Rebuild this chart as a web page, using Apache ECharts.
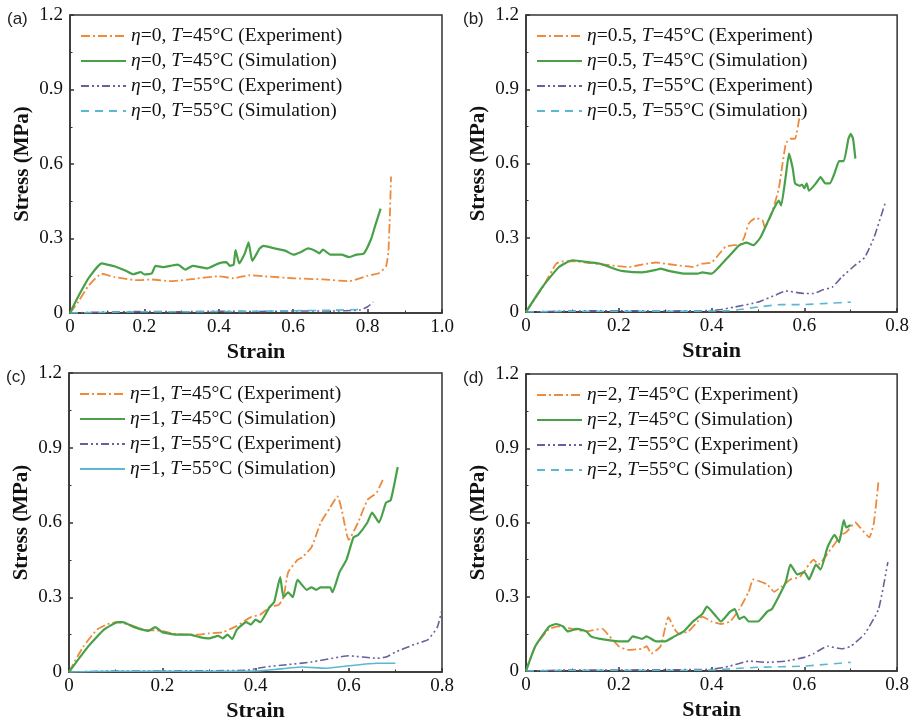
<!DOCTYPE html>
<html><head><meta charset="utf-8">
<script src="https://cdn.jsdelivr.net/npm/echarts@6/dist/echarts.min.js"></script>
<style>html,body{margin:0;padding:0;background:#fff}#c{width:912px;height:723px}</style>
</head><body><div id="c"></div>
<script>
// ---- data ----
const panelLabels = ['(a)', '(b)', '(c)', '(d)'];
const etaValues = ['0', '0.5', '1', '2'];
const xMaxes = [1.0, 0.8, 0.8, 0.8];
const yTicks = [0, 0.3, 0.6, 0.9, 1.2];

const aExp45 = [[0,0],[0.02,0.04],[0.05,0.11],[0.085,0.158],[0.12,0.145],[0.18,0.132],[0.22,0.135],[0.27,0.128],[0.32,0.135],[0.4,0.148],[0.44,0.14],[0.48,0.152],[0.52,0.148],[0.6,0.14],[0.68,0.135],[0.75,0.128],[0.8,0.15],[0.83,0.16],[0.85,0.19],[0.856,0.25],[0.86,0.4],[0.863,0.55]];
const aSim45 = [[0,0],[0.02,0.06],[0.05,0.14],[0.085,0.2],[0.1,0.195],[0.12,0.188],[0.15,0.17],[0.17,0.156],[0.19,0.165],[0.2,0.155],[0.22,0.16],[0.23,0.19],[0.25,0.185],[0.27,0.19],[0.29,0.195],[0.31,0.175],[0.33,0.19],[0.37,0.18],[0.4,0.2],[0.42,0.205],[0.43,0.19],[0.44,0.195],[0.445,0.253],[0.455,0.2],[0.47,0.24],[0.48,0.284],[0.49,0.21],[0.51,0.26],[0.52,0.27],[0.55,0.26],[0.58,0.25],[0.6,0.235],[0.62,0.245],[0.64,0.26],[0.66,0.25],[0.67,0.24],[0.68,0.255],[0.7,0.235],[0.73,0.235],[0.75,0.225],[0.77,0.235],[0.79,0.24],[0.81,0.3],[0.82,0.35],[0.835,0.42]];
const aExp55 = [[0,0],[0.1,0.004],[0.2,0.006],[0.3,0.005],[0.4,0.007],[0.5,0.006],[0.6,0.008],[0.7,0.008],[0.78,0.012],[0.8,0.025],[0.815,0.044]];
const aSim55 = [[0,0],[0.1,0.003],[0.2,0.005],[0.3,0.005],[0.4,0.006],[0.5,0.007],[0.6,0.009],[0.7,0.011],[0.79,0.015]];

const bExp45 = [[0,0],[0.036,0.1],[0.065,0.195],[0.08,0.205],[0.1,0.205],[0.15,0.195],[0.2,0.185],[0.22,0.182],[0.26,0.195],[0.28,0.2],[0.32,0.19],[0.36,0.182],[0.38,0.195],[0.4,0.2],[0.41,0.22],[0.43,0.263],[0.45,0.27],[0.46,0.27],[0.47,0.3],[0.48,0.357],[0.495,0.38],[0.51,0.37],[0.515,0.34],[0.53,0.4],[0.545,0.5],[0.56,0.68],[0.57,0.7],[0.58,0.7],[0.59,0.795]];
const bSim45 = [[0,0],[0.035,0.1],[0.07,0.18],[0.1,0.209],[0.14,0.2],[0.16,0.195],[0.19,0.175],[0.21,0.165],[0.25,0.16],[0.28,0.17],[0.29,0.175],[0.31,0.165],[0.34,0.155],[0.37,0.155],[0.38,0.16],[0.4,0.155],[0.42,0.19],[0.44,0.23],[0.46,0.27],[0.475,0.28],[0.49,0.27],[0.505,0.3],[0.52,0.36],[0.535,0.42],[0.545,0.45],[0.55,0.43],[0.56,0.55],[0.567,0.64],[0.575,0.58],[0.58,0.52],[0.59,0.51],[0.595,0.515],[0.6,0.5],[0.605,0.52],[0.61,0.49],[0.625,0.52],[0.635,0.545],[0.645,0.52],[0.655,0.52],[0.665,0.56],[0.675,0.61],[0.685,0.61],[0.695,0.7],[0.7,0.72],[0.705,0.7],[0.71,0.62]];
const bExp55 = [[0,0],[0.1,0.004],[0.2,0.005],[0.3,0.004],[0.4,0.006],[0.42,0.01],[0.45,0.02],[0.5,0.04],[0.54,0.07],[0.56,0.085],[0.6,0.075],[0.62,0.075],[0.64,0.09],[0.66,0.1],[0.68,0.14],[0.71,0.19],[0.73,0.22],[0.75,0.3],[0.775,0.445]];
const bSim55 = [[0,0],[0.1,0.003],[0.2,0.003],[0.3,0.003],[0.44,0.005],[0.46,0.01],[0.5,0.02],[0.55,0.03],[0.6,0.03],[0.65,0.035],[0.7,0.04]];

const cExp45 = [[0,0],[0.03,0.1],[0.06,0.17],[0.08,0.19],[0.1,0.2],[0.13,0.19],[0.16,0.17],[0.2,0.165],[0.22,0.155],[0.25,0.15],[0.28,0.15],[0.3,0.155],[0.33,0.16],[0.36,0.185],[0.39,0.22],[0.41,0.23],[0.43,0.26],[0.45,0.27],[0.46,0.3],[0.47,0.4],[0.49,0.45],[0.5,0.46],[0.52,0.5],[0.54,0.6],[0.56,0.66],[0.576,0.705],[0.585,0.65],[0.6,0.53],[0.62,0.6],[0.64,0.69],[0.66,0.72],[0.675,0.78]];
const cSim45 = [[0,0],[0.04,0.1],[0.075,0.17],[0.105,0.2],[0.115,0.2],[0.14,0.18],[0.17,0.165],[0.185,0.18],[0.2,0.16],[0.23,0.15],[0.26,0.15],[0.28,0.14],[0.3,0.135],[0.32,0.145],[0.33,0.135],[0.34,0.15],[0.35,0.132],[0.36,0.17],[0.38,0.2],[0.39,0.19],[0.4,0.21],[0.41,0.2],[0.43,0.26],[0.44,0.28],[0.453,0.381],[0.46,0.3],[0.47,0.32],[0.48,0.3],[0.49,0.37],[0.51,0.33],[0.52,0.34],[0.53,0.33],[0.54,0.34],[0.56,0.34],[0.565,0.32],[0.58,0.4],[0.595,0.45],[0.61,0.54],[0.62,0.55],[0.64,0.6],[0.65,0.64],[0.665,0.6],[0.68,0.68],[0.69,0.69],[0.705,0.823]];
const cExp55 = [[0,0],[0.1,0.004],[0.2,0.004],[0.3,0.005],[0.38,0.007],[0.42,0.02],[0.47,0.03],[0.52,0.04],[0.58,0.06],[0.6,0.065],[0.66,0.055],[0.68,0.06],[0.7,0.08],[0.74,0.11],[0.77,0.13],[0.79,0.18],[0.8,0.25]];
const cSim55 = [[0,0],[0.1,0.003],[0.2,0.003],[0.3,0.003],[0.4,0.004],[0.44,0.01],[0.5,0.02],[0.55,0.015],[0.6,0.025],[0.66,0.035],[0.7,0.035]];

const dExp45 = [[0,0],[0.02,0.1],[0.05,0.17],[0.07,0.18],[0.1,0.17],[0.13,0.16],[0.164,0.171],[0.18,0.14],[0.2,0.1],[0.22,0.085],[0.25,0.09],[0.26,0.1],[0.27,0.07],[0.29,0.1],[0.307,0.218],[0.32,0.17],[0.33,0.15],[0.35,0.16],[0.37,0.2],[0.38,0.22],[0.4,0.2],[0.42,0.19],[0.44,0.2],[0.46,0.25],[0.48,0.32],[0.49,0.37],[0.52,0.35],[0.535,0.32],[0.55,0.34],[0.57,0.37],[0.59,0.38],[0.61,0.43],[0.62,0.45],[0.63,0.43],[0.66,0.5],[0.68,0.55],[0.69,0.56],[0.71,0.6],[0.72,0.58],[0.74,0.54],[0.75,0.6],[0.76,0.77]];
const dSim45 = [[0,0],[0.02,0.1],[0.05,0.18],[0.065,0.19],[0.08,0.18],[0.09,0.16],[0.11,0.17],[0.13,0.16],[0.14,0.14],[0.16,0.13],[0.2,0.12],[0.22,0.12],[0.23,0.14],[0.25,0.13],[0.26,0.14],[0.28,0.12],[0.3,0.12],[0.32,0.14],[0.34,0.16],[0.36,0.2],[0.38,0.23],[0.39,0.26],[0.41,0.22],[0.42,0.2],[0.44,0.24],[0.45,0.25],[0.46,0.21],[0.47,0.22],[0.48,0.2],[0.5,0.2],[0.52,0.24],[0.53,0.25],[0.55,0.32],[0.56,0.36],[0.57,0.43],[0.585,0.39],[0.6,0.4],[0.61,0.37],[0.625,0.43],[0.635,0.41],[0.65,0.5],[0.665,0.55],[0.675,0.52],[0.685,0.61],[0.69,0.58],[0.7,0.59]];
const dExp55 = [[0,0],[0.1,0.004],[0.2,0.004],[0.3,0.005],[0.4,0.007],[0.44,0.02],[0.48,0.04],[0.52,0.035],[0.56,0.04],[0.6,0.055],[0.62,0.07],[0.65,0.1],[0.68,0.09],[0.7,0.1],[0.73,0.15],[0.76,0.25],[0.78,0.44]];
const dSim55 = [[0,0],[0.1,0.003],[0.2,0.003],[0.3,0.003],[0.4,0.004],[0.45,0.01],[0.5,0.015],[0.6,0.02],[0.7,0.035]];

const panelData = [
  [aExp45, aSim45, aExp55, aSim55],
  [bExp45, bSim45, bExp55, bSim55],
  [cExp45, cSim45, cExp55, cSim55],
  [dExp45, dSim45, dExp55, dSim55]
];

// ---- styling ----
const grids = [
  {left: 70, top: 15, width: 372, height: 298},
  {left: 526, top: 15, width: 372, height: 297},
  {left: 69, top: 373, width: 373, height: 299},
  {left: 526, top: 374, width: 373, height: 297}
];
const colors = ['#EE8A3C', '#48A048', '#6A5F9A', '#5BB8D0'];
const dashes = [[9,3,2,3], 'solid', [8,3,2,3,2,3], [8,6]];
const widths = [1.8, 2.2, 1.6, 1.6];
const suffix = ['T=45°C (Experiment)', 'T=45°C (Simulation)', 'T=55°C (Experiment)', 'T=55°C (Simulation)'];
const serif = '"Liberation Serif", "Times New Roman", serif';

const option = {
  animation: false,
  backgroundColor: '#fff',
  grid: [], xAxis: [], yAxis: [], series: [], legend: [], title: []
};

grids.forEach((g, p) => {
  option.grid.push(Object.assign({show: true, borderColor: '#333', borderWidth: 1.5, backgroundColor: 'transparent'}, g));
  option.xAxis.push({
    type: 'value', gridIndex: p, min: 0, max: xMaxes[p], interval: 0.2,
    name: 'Strain', nameLocation: 'middle', nameGap: 28,
    nameTextStyle: {fontFamily: serif, fontSize: 22, fontWeight: 'bold', color: '#111'},
    axisLine: {lineStyle: {color: '#333', width: 1.5}},
    axisTick: {inside: true, length: 4, lineStyle: {color: '#333', width: 1.5}},
    minorTick: {show: true, splitNumber: 2, length: 2.5, lineStyle: {color: '#333'}},
    splitLine: {show: false},
    axisLabel: {fontFamily: serif, fontSize: 19, color: '#111', margin: 5,
      formatter: v => (v === 0 ? '0' : v.toFixed(1))}
  });
  option.yAxis.push({
    type: 'value', gridIndex: p, min: 0, max: 1.2, interval: 0.3,
    name: 'Stress (MPa)', nameLocation: 'middle', nameGap: 37,
    nameTextStyle: {fontFamily: serif, fontSize: 21, fontWeight: 'bold', color: '#111'},
    axisLine: {lineStyle: {color: '#333', width: 1.5}},
    axisTick: {inside: true, length: 4, lineStyle: {color: '#333', width: 1.5}},
    minorTick: {show: true, splitNumber: 2, length: 2.5, lineStyle: {color: '#333'}},
    splitLine: {show: false},
    axisLabel: {fontFamily: serif, fontSize: 19, color: '#111', margin: 7,
      formatter: v => (v === 0 ? '0' : v.toFixed(1))}
  });
  const names = [];
  panelData[p].forEach((d, k) => {
    const name = 'η=' + etaValues[p] + ', ' + suffix[k];
    names.push(name);
    let dash = dashes[k];
    if (p === 2 && k === 3) dash = 'solid';
    option.series.push({
      type: 'line', name: name, xAxisIndex: p, yAxisIndex: p, data: d,
      symbol: 'none', smooth: 0.15, z: k === 1 ? 3 : 2,
      lineStyle: {color: colors[k], width: widths[k], type: dash},
      itemStyle: {color: colors[k]}
    });
  });
  option.legend.push({
    data: names, orient: 'vertical', left: g.left + 10, top: g.top + 11, padding: 0,
    itemWidth: 45, itemHeight: 14, itemGap: 5, selectedMode: false,
    itemStyle: {opacity: 0},
    textStyle: {fontFamily: serif, fontSize: 19.5, color: '#111', lineHeight: 20,
      rich: {i: {fontFamily: serif, fontSize: 19.5, fontStyle: 'italic', color: '#111'}}},
    formatter: n => n.replace('η', '{i|η}').replace('T=', '{i|T}=')
  });
  option.title.push({
    text: panelLabels[p], left: g.left - 68, top: g.top - 9,
    textStyle: {fontFamily: '"Liberation Sans", Arial, sans-serif', fontSize: 17, fontWeight: 'normal', color: '#222'}
  });
});

const chart = echarts.init(document.getElementById('c'), null, {renderer: 'canvas'});
chart.setOption(option);
</script>
</body></html>
